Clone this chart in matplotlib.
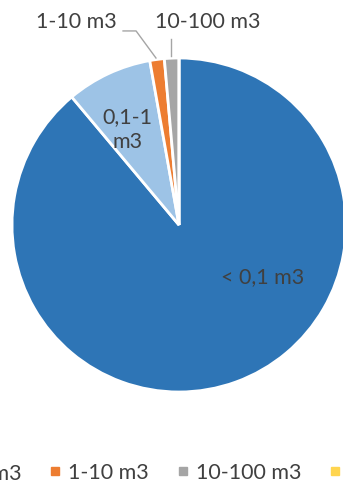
import matplotlib.pyplot as plt
from matplotlib.lines import Line2D

plt.rcParams['font.family'] = ['Lato', 'DejaVu Sans']

categories = ['< 0,1 m3', '0,1-1 m3', '1-10 m3', '10-100 m3', '> 100 m3']
shares = [88.9, 8.3, 1.4, 1.4, 0.0]
colors = ['#2E75B6', '#9DC3E6', '#ED7D31', '#A5A5A5', '#FFD54F']
text_col = '#404040'

W, H = 343, 484
fig = plt.figure(figsize=(W / 100, H / 100), dpi=100)

# pie centre (179, 225) px from the top-left, radius 167 px
cx, cy, r = 179, 225, 167
ax = fig.add_axes([(cx - r) / W, (H - cy - r) / H, 2 * r / W, 2 * r / H])
wedges, _ = ax.pie(shares, colors=colors, startangle=90, counterclock=False,
                   radius=1, wedgeprops=dict(edgecolor='white', linewidth=2))
ax.set_xlim(-1, 1)
ax.set_ylim(-1, 1)
ax.set_aspect('equal')
ax.axis('off')

fs = 15.5
ax.text(0.50, -0.31, categories[0], ha='center', va='center', fontsize=fs, color=text_col)
ax.text(-0.31, 0.57, '0,1-1\nm3', ha='center', va='center', fontsize=fs, color=text_col,
        linespacing=1.3)

# outside labels with leader lines
ax.text(-0.375, 1.216, categories[2], ha='right', va='center', fontsize=fs, color=text_col,
        clip_on=False)
ax.plot([-0.335, -0.257, -0.138], [1.162, 1.162, 1.0], color='#A5A5A5', lw=1, clip_on=False)
ax.text(0.171, 1.216, categories[3], ha='center', va='center', fontsize=fs, color=text_col,
        clip_on=False)
ax.plot([-0.048, -0.048], [1.114, 1.012], color='#A5A5A5', lw=1, clip_on=False)

handles = [Line2D([], [], marker='s', linestyle='none', markersize=6,
                  markerfacecolor=c, markeredgecolor=c) for c in colors]
fig.legend(handles, categories, loc='center left', bbox_to_anchor=(-0.647, 11 / H),
           ncol=5, frameon=False, fontsize=fs, labelcolor=text_col,
           handlelength=0.6, handletextpad=0.3, columnspacing=1.27,
           borderaxespad=0)

fig.savefig('out.png', dpi=100)
